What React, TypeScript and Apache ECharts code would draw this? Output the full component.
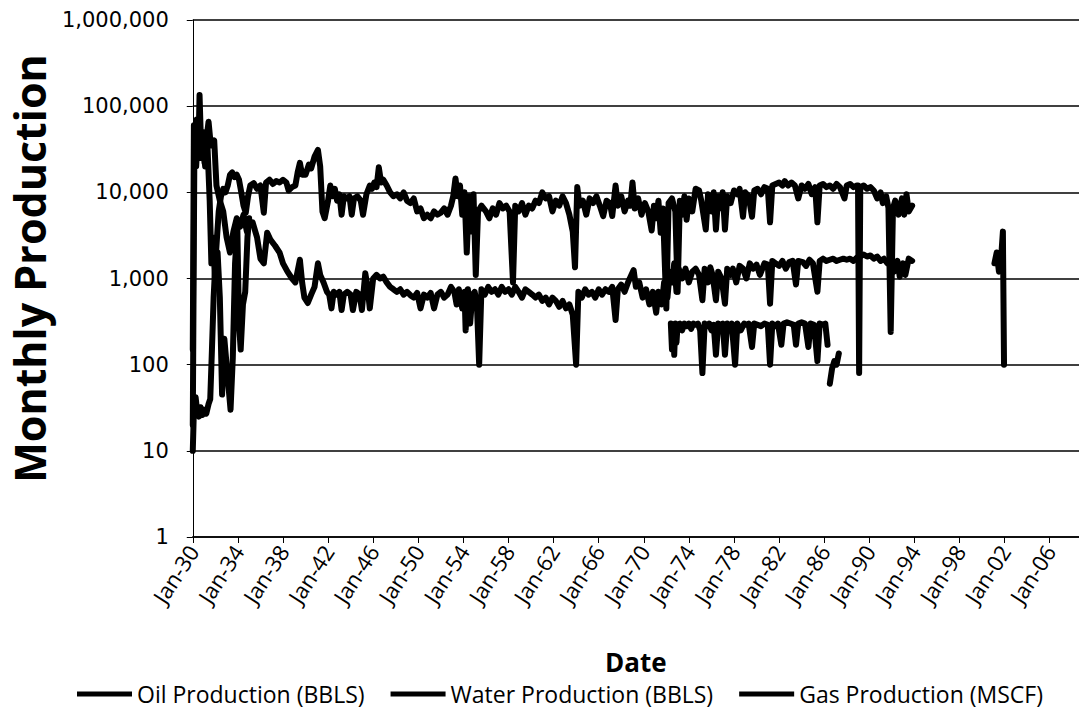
import React, { useEffect, useRef } from 'react';
import * as echarts from 'echarts';

const START_YEAR = 1930;
const END_YEAR = 2008.6;
const TICK_YEARS = 4;
const seriesNames = ['Oil Production (BBLS)', 'Water Production (BBLS)', 'Gas Production (MSCF)'];

// [decimal year, monthly production]
const oilProduction: [number, number | null][] = [
  [1930.0, 150], [1930.1, 60000], [1930.2, 20000], [1930.35, 70000], [1930.5, 30000], [1930.6, 135000],
  [1930.75, 30000], [1930.9, 50000], [1931.05, 22000], [1931.2, 40000], [1931.4, 66000], [1931.6, 35000],
  [1931.9, 40000], [1932.1, 12000], [1932.4, 8000], [1932.7, 6000], [1933.0, 3000], [1933.3, 2000],
  [1933.6, 3500], [1933.9, 5000], [1934.2, 4000], [1934.5, 5500], [1934.8, 3500], [1935.0, 4500],
  [1935.3, 4500], [1935.7, 3000], [1936.0, 1700], [1936.3, 1500], [1936.6, 3400], [1936.9, 2800],
  [1937.3, 2400], [1937.7, 2000], [1938.0, 1500], [1938.4, 1200], [1938.8, 1000], [1939.1, 900],
  [1939.5, 1650], [1939.7, 900], [1939.9, 600], [1940.2, 520], [1940.5, 650], [1940.8, 800],
  [1941.1, 1500], [1941.3, 1100], [1941.6, 900], [1941.9, 700], [1942.1, 650], [1942.3, 450],
  [1942.5, 700], [1942.8, 650], [1943.0, 700], [1943.2, 430], [1943.4, 650], [1943.7, 700],
  [1944.0, 650], [1944.2, 430], [1944.5, 700], [1944.8, 650], [1945.0, 430], [1945.3, 1150],
  [1945.5, 800], [1945.7, 450], [1946.0, 1000], [1946.3, 1100], [1946.6, 1000], [1946.9, 1050],
  [1947.2, 900], [1947.5, 800], [1947.8, 750], [1948.1, 700], [1948.4, 750], [1948.7, 650],
  [1949.0, 700], [1949.3, 640], [1949.6, 600], [1949.9, 680], [1950.2, 450], [1950.5, 650],
  [1950.8, 600], [1951.1, 680], [1951.4, 450], [1951.7, 650], [1952.0, 700], [1952.3, 600],
  [1952.6, 650], [1952.9, 800], [1953.2, 700], [1953.4, 500], [1953.6, 750], [1953.9, 450],
  [1954.1, 700], [1954.2, 250], [1954.4, 750], [1954.6, 300], [1954.8, 650], [1955.0, 700],
  [1955.2, 500], [1955.4, 100], [1955.6, 750], [1955.9, 650], [1956.2, 800], [1956.5, 700],
  [1956.8, 750], [1957.1, 650], [1957.4, 800], [1957.7, 700], [1958.0, 750], [1958.3, 650],
  [1958.6, 800], [1958.9, 700], [1959.2, 600], [1959.5, 750], [1959.8, 700], [1960.1, 650],
  [1960.4, 600], [1960.7, 650], [1961.0, 550], [1961.3, 600], [1961.6, 500], [1961.9, 600],
  [1962.2, 550], [1962.5, 470], [1962.8, 550], [1963.1, 450], [1963.4, 500], [1963.7, 380],
  [1964.0, 100], [1964.2, 700], [1964.5, 600], [1964.8, 750], [1965.1, 650], [1965.4, 700],
  [1965.7, 600], [1966.0, 750], [1966.3, 650], [1966.6, 750], [1966.9, 700], [1967.2, 800],
  [1967.5, 330], [1967.7, 750], [1968.0, 850], [1968.3, 700], [1968.6, 900], [1968.9, 1100],
  [1969.1, 1250], [1969.3, 800], [1969.6, 900], [1969.9, 600], [1970.2, 750], [1970.5, 500],
  [1970.8, 700], [1971.1, 400], [1971.3, 700], [1971.6, 500], [1971.8, 900], [1972.1, 600],
  [1972.3, 1200], [1972.5, 900], [1972.7, 1500], [1972.9, 700], [1973.1, 1300], [1973.4, 1000],
  [1973.7, 1300], [1974.0, 900], [1974.3, 1200], [1974.6, 1300], [1974.9, 1100], [1975.2, 560],
  [1975.4, 1300], [1975.7, 900], [1975.9, 1350], [1976.1, 1100], [1976.4, 560], [1976.6, 1200],
  [1976.9, 1000], [1977.2, 510], [1977.4, 1300], [1977.7, 1100], [1977.9, 1300], [1978.2, 900],
  [1978.5, 1400], [1978.8, 1300], [1979.1, 1000], [1979.4, 1500], [1979.7, 1300], [1980.0, 1450],
  [1980.3, 1100], [1980.7, 1500], [1981.0, 1450], [1981.2, 510], [1981.4, 1600], [1981.7, 1500],
  [1982.0, 1400], [1982.3, 1600], [1982.6, 1300], [1982.9, 1550], [1983.2, 1600], [1983.5, 850],
  [1983.7, 1600], [1984.1, 1550], [1984.4, 1400], [1984.7, 1650], [1985.0, 1500], [1985.4, 700],
  [1985.6, 1600], [1985.9, 1700], [1986.2, 1600], [1986.5, 1650], [1986.8, 1700], [1987.1, 1600],
  [1987.4, 1650], [1987.7, 1700], [1988.0, 1650], [1988.3, 1700], [1988.6, 1600], [1988.9, 1750],
  [1989.2, 1800], [1989.5, 1900], [1989.8, 1800], [1990.1, 1850], [1990.4, 1700], [1990.7, 1800],
  [1991.0, 1600], [1991.3, 1700], [1991.6, 1500], [1991.9, 1600], [1992.2, 1200], [1992.5, 1600],
  [1992.7, 1050], [1993.0, 1500], [1993.2, 1100], [1993.5, 1700], [1993.8, 1600],
  [1994.0, null],
  [2001.1, 1500], [2001.3, 2000], [2001.5, 1200], [2001.7, 1800], [2001.85, 3500], [2001.95, 100],
];

const waterProduction: [number, number | null][] = [
  [1930.0, 10], [1930.1, 30], [1930.25, 42], [1930.4, 28], [1930.55, 25], [1930.7, 32], [1930.85, 26],
  [1931.0, 30], [1931.2, 27], [1931.4, 35], [1931.55, 40], [1931.7, 150], [1931.85, 600], [1932.0, 1500],
  [1932.15, 3000], [1932.3, 6000], [1932.5, 9000], [1932.7, 11000], [1932.9, 10000], [1933.1, 12000],
  [1933.3, 16000], [1933.5, 17000], [1933.7, 15000], [1933.9, 16000], [1934.1, 14000], [1934.3, 10000],
  [1934.5, 7000], [1934.7, 5800], [1934.9, 9000], [1935.1, 12000], [1935.4, 12800], [1935.7, 11000],
  [1936.0, 12000], [1936.3, 5800], [1936.5, 13000], [1936.8, 14000], [1937.1, 12500], [1937.4, 13500],
  [1937.7, 13000], [1938.0, 14000], [1938.3, 13000], [1938.5, 10500], [1938.8, 11500], [1939.1, 12000],
  [1939.3, 17000], [1939.5, 22000], [1939.7, 16000], [1940.0, 16000], [1940.3, 21000], [1940.5, 19000],
  [1940.8, 26000], [1941.1, 31000], [1941.3, 20000], [1941.5, 6000], [1941.7, 5000], [1942.0, 8000],
  [1942.2, 12000], [1942.4, 9000], [1942.6, 11000], [1942.8, 8000], [1943.0, 9500], [1943.2, 5500],
  [1943.4, 9000], [1943.6, 8500], [1943.9, 9000], [1944.1, 5500], [1944.3, 8500], [1944.6, 9000],
  [1944.9, 8000], [1945.1, 5500], [1945.4, 9500], [1945.7, 12000], [1945.9, 11000], [1946.1, 13000],
  [1946.3, 11500], [1946.5, 19500], [1946.7, 13000], [1946.9, 14000], [1947.2, 12000], [1947.5, 10000],
  [1947.8, 9000], [1948.1, 9500], [1948.4, 8500], [1948.7, 10000], [1949.0, 8000], [1949.3, 7500],
  [1949.6, 8500], [1949.9, 6000], [1950.2, 6500], [1950.5, 5000], [1950.8, 5500], [1951.1, 5000],
  [1951.4, 6000], [1951.7, 5500], [1952.0, 5800], [1952.3, 6500], [1952.6, 5500], [1952.9, 7000],
  [1953.1, 9000], [1953.3, 14500], [1953.5, 9000], [1953.7, 12000], [1953.9, 5500], [1954.1, 10000],
  [1954.3, 2000], [1954.5, 9000], [1954.7, 3500], [1954.9, 9500], [1955.1, 1100], [1955.3, 6000],
  [1955.6, 7000], [1956.0, 6000], [1956.3, 5000], [1956.6, 6500], [1956.9, 5500], [1957.2, 7500],
  [1957.5, 6500], [1957.8, 7000], [1958.1, 6000], [1958.4, 900], [1958.6, 7000], [1958.9, 6000],
  [1959.2, 7500], [1959.5, 5500], [1959.8, 7000], [1960.1, 6500], [1960.4, 8000], [1960.7, 7500],
  [1961.0, 10000], [1961.3, 8500], [1961.6, 9000], [1961.9, 6000], [1962.2, 8000], [1962.5, 7000],
  [1962.8, 9000], [1963.1, 7500], [1963.4, 5500], [1963.7, 3500], [1963.9, 1350], [1964.1, 11500],
  [1964.3, 7000], [1964.6, 8000], [1964.9, 5500], [1965.2, 8500], [1965.5, 7500], [1965.8, 9000],
  [1966.1, 7000], [1966.4, 5300], [1966.7, 8000], [1967.0, 7500], [1967.2, 5300], [1967.5, 12000],
  [1967.7, 7000], [1968.0, 9000], [1968.3, 6000], [1968.6, 8000], [1968.8, 7000], [1969.0, 13000],
  [1969.2, 6500], [1969.5, 8500], [1969.8, 5500], [1970.1, 7500], [1970.4, 6000], [1970.7, 3600],
  [1970.9, 7000], [1971.1, 5000], [1971.3, 8000], [1971.5, 3400], [1971.7, 6500], [1972.0, 450],
  [1972.2, 7500], [1972.5, 8500], [1972.8, 6000], [1973.0, 700], [1973.2, 8000], [1973.4, 5500],
  [1973.6, 9000], [1973.8, 4800], [1974.0, 8500], [1974.3, 6000], [1974.6, 11000], [1974.9, 10500],
  [1975.1, 8000], [1975.5, 3700], [1975.7, 9500], [1976.0, 6000], [1976.2, 10000], [1976.4, 3700],
  [1976.6, 9000], [1976.9, 6500], [1977.0, 10000], [1977.2, 3700], [1977.4, 9000], [1977.7, 7500],
  [1978.0, 10500], [1978.3, 9500], [1978.5, 11000], [1978.8, 5200], [1979.0, 10000], [1979.3, 9000],
  [1979.6, 5200], [1979.8, 10500], [1980.1, 11000], [1980.4, 9500], [1980.7, 11500], [1981.0, 11000],
  [1981.2, 4500], [1981.4, 12000], [1981.7, 12500], [1982.0, 13000], [1982.3, 12000], [1982.5, 13500],
  [1982.8, 12000], [1983.1, 13000], [1983.4, 12000], [1983.7, 8500], [1984.0, 12000], [1984.3, 11000],
  [1984.6, 12500], [1984.9, 9500], [1985.2, 11500], [1985.4, 4500], [1985.6, 12000], [1985.9, 12500],
  [1986.2, 11500], [1986.5, 12000], [1986.8, 11000], [1987.1, 12500], [1987.4, 11500], [1987.8, 8500],
  [1988.0, 12000], [1988.3, 12500], [1988.6, 11500], [1988.9, 12000], [1989.0, 12000], [1989.1, 80],
  [1989.2, 11500], [1989.5, 12000], [1989.8, 11000], [1990.1, 11500], [1990.4, 10500], [1990.7, 8500],
  [1991.0, 10000], [1991.2, 7500], [1991.5, 9000], [1991.7, 6600], [1991.9, 240], [1992.1, 6500],
  [1992.3, 8000], [1992.6, 5500], [1992.9, 8500], [1993.1, 5500], [1993.3, 9500], [1993.5, 6000],
  [1993.8, 7000],
];

const gasProduction: [number, number | null][] = [
  [1930.0, 20], [1930.15, 45000], [1930.3, 20000], [1930.5, 60000], [1930.7, 25000], [1930.9, 40000],
  [1931.1, 20000], [1931.3, 35000], [1931.5, 8000], [1931.65, 1500], [1931.8, 3000], [1932.0, 800],
  [1932.2, 2000], [1932.4, 600], [1932.6, 45], [1932.8, 200], [1933.0, 100], [1933.2, 50],
  [1933.35, 30], [1933.55, 120], [1933.75, 1500], [1933.95, 4000], [1934.1, 300], [1934.25, 150],
  [1934.45, 500], [1934.65, 700], [1934.85, 3000], [1935.0, 5000],
  [1935.2, null],
  [1972.4, 300], [1972.5, 150], [1972.6, 280], [1972.7, 130], [1972.8, 300], [1972.9, 180],
  [1973.0, 290], [1973.2, 300], [1973.4, 250], [1973.6, 300], [1973.8, 280], [1974.0, 300],
  [1974.2, 260], [1974.4, 300], [1974.6, 290], [1974.8, 300], [1975.0, 250], [1975.2, 80],
  [1975.4, 300], [1975.6, 280], [1975.8, 300], [1976.0, 250], [1976.2, 290], [1976.4, 130],
  [1976.6, 300], [1976.8, 290], [1977.0, 300], [1977.2, 130], [1977.4, 300], [1977.6, 280],
  [1977.8, 300], [1978.1, 100], [1978.3, 300], [1978.6, 250], [1978.9, 300], [1979.1, 290],
  [1979.3, 300], [1979.6, 160], [1979.8, 300], [1980.1, 290], [1980.4, 280], [1980.7, 300],
  [1981.0, 290], [1981.2, 100], [1981.4, 300], [1981.7, 280], [1981.9, 300], [1982.2, 170],
  [1982.4, 300], [1982.7, 310], [1983.0, 300], [1983.3, 290], [1983.5, 170], [1983.7, 300],
  [1984.0, 310], [1984.3, 300], [1984.6, 160], [1984.8, 300], [1985.1, 290], [1985.4, 110],
  [1985.6, 300], [1985.9, 290], [1986.1, 300], [1986.3, 170],
  [1986.4, null],
  [1986.5, 60], [1986.7, 90], [1986.9, 110], [1987.1, 100], [1987.3, 135],
];

const formatYearTick = (v: number) => {
  const r = v % TICK_YEARS;
  if (Math.abs(r) > 1e-6 && Math.abs(r - TICK_YEARS) > 1e-6) return '';
  const yy = Math.round(START_YEAR + v) % 100;
  return 'Jan-' + String(yy).padStart(2, '0');
};

export default function App() {
  const ref = useRef<HTMLDivElement>(null);
  useEffect(() => {
    if (!ref.current) return;
    const chart = echarts.init(ref.current, null, { renderer: 'svg' });
    const toSeries = (name: string, data: [number, number | null][]) => ({
      name,
      type: 'line',
      data: data.map(([t, v]) => [t - START_YEAR, v]),
      showSymbol: false,
      symbol: 'none',
      silent: true,
      connectNulls: false,
      color: '#000',
      itemStyle: { color: '#000' },
      lineStyle: { color: '#000', width: 6, join: 'round', cap: 'round' },
    });
    chart.setOption({
      animation: false,
      backgroundColor: '#fff',
      grid: { left: 189, right: 0, top: 20, bottom: 176 },
      legend: {
        show: true,
        left: 72,
        top: 677,
        icon: 'rect',
        itemWidth: 55,
        itemHeight: 5,
        itemGap: 26,
        textStyle: { fontFamily: 'Open Sans', fontSize: 23, color: '#000', lineHeight: 24 },
        data: seriesNames,
      },
      xAxis: {
        type: 'value',
        min: 0,
        max: END_YEAR - START_YEAR,
        interval: TICK_YEARS,
        axisLine: { show: true, onZero: false, lineStyle: { color: '#000', width: 1.5 } },
        axisTick: { show: true, length: 6, lineStyle: { color: '#000', width: 1 } },
        axisLabel: {
          rotate: 57,
          margin: 10,
          fontFamily: 'Open Sans',
          fontSize: 22,
          color: '#000',
          showMaxLabel: false,
          formatter: formatYearTick,
        },
        splitLine: { show: false },
        name: 'Date',
        nameLocation: 'middle',
        nameGap: 112,
        nameTextStyle: { fontFamily: 'Open Sans', fontWeight: 'bold', fontSize: 26, color: '#000', lineHeight: 26 },
      },
      yAxis: {
        type: 'log',
        logBase: 10,
        min: 1,
        max: 1000000,
        axisLine: { show: true, lineStyle: { color: '#000', width: 1 } },
        axisTick: { show: true, length: 6, lineStyle: { color: '#000', width: 1 } },
        axisLabel: {
          margin: 24,
          fontFamily: 'DejaVu Sans',
          fontSize: 21,
          color: '#000',
          formatter: (v: number) => Math.round(v).toLocaleString('en-US'),
        },
        splitLine: { show: true, lineStyle: { color: '#000', width: 1.5 } },
        name: 'Monthly Production',
        nameLocation: 'middle',
        nameGap: 137,
        nameTextStyle: {
          fontFamily: 'Open Sans',
          fontWeight: 'bold',
          fontSize: 43,
          color: '#000',
          padding: [0, 0, 0, 20],
        },
      },
      series: [
        toSeries(seriesNames[0], oilProduction),
        toSeries(seriesNames[1], waterProduction),
        toSeries(seriesNames[2], gasProduction),
      ],
    });
    return () => chart.dispose();
  }, []);
  return (
    <div
      ref={ref}
      style={{ position: 'fixed', left: 0, top: 0, width: 1079, height: 713, background: '#fff' }}
    />
  );
}
